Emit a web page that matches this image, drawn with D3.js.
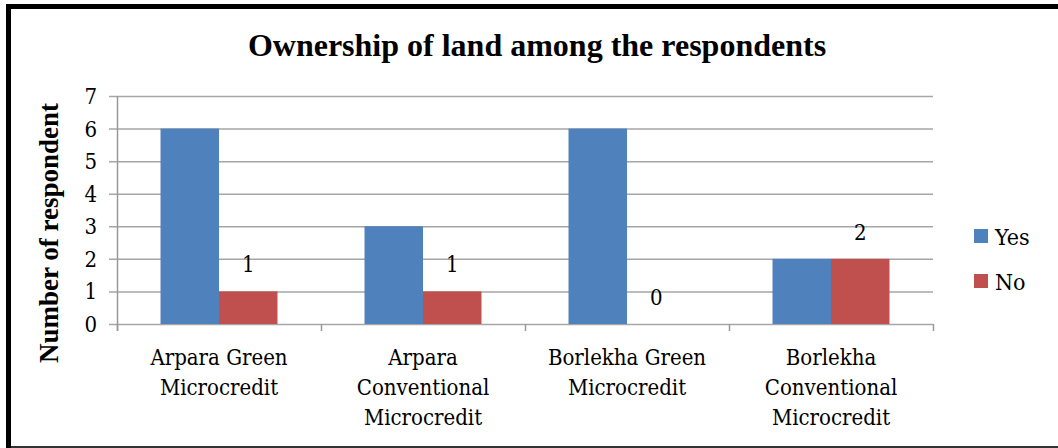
<!DOCTYPE html>
<html>
<head>
<meta charset="utf-8">
<script src="https://cdn.jsdelivr.net/npm/d3@7/dist/d3.min.js"></script>
<style>
  html, body { margin: 0; padding: 0; background: #fff; }
  svg { display: block; }
</style>
</head>
<body>
<svg id="chart" width="1058" height="448"></svg>
<script>
// Land ownership counts by microcredit group
const categories = [
  ["Arpara Green", "Microcredit"],
  ["Arpara", "Conventional", "Microcredit"],
  ["Borlekha Green", "Microcredit"],
  ["Borlekha", "Conventional", "Microcredit"]
];
const seriesNames = ["Yes", "No"];
const yesValues = [6, 3, 6, 2];
const noValues = [1, 1, 0, 2];
const yTicks = [0, 1, 2, 3, 4, 5, 6, 7];
const colors = { Yes: "#4F81BD", No: "#C0504D" };

const FONT = "'DejaVu Serif Condensed', 'DejaVu Serif', serif";
const BOLD = "'Liberation Serif', 'Times New Roman', serif";
const svg = d3.select("#chart");
const W = 1058, H = 448;
const plot = { left: 117, right: 933, top: 96, bottom: 324 };

// frame
svg.append("rect").attr("x", 0).attr("y", 0).attr("width", W).attr("height", H).attr("fill", "#fff");
svg.append("line").attr("x1", 8.5).attr("x2", 8.5).attr("y1", 4).attr("y2", H).attr("stroke", "#000").attr("stroke-width", 5);
svg.append("line").attr("x1", 6).attr("x2", W).attr("y1", 6.5).attr("y2", 6.5).attr("stroke", "#000").attr("stroke-width", 5);
svg.append("line").attr("x1", 11).attr("x2", W).attr("y1", 447).attr("y2", 447).attr("stroke", "#333").attr("stroke-width", 2);

const catKeys = categories.map(c => c.join(" "));
const x0 = d3.scaleBand().domain(catKeys).range([plot.left, plot.right]).padding(0);
const x1 = d3.scaleBand().domain(seriesNames).range([0, x0.bandwidth()]).paddingInner(0).paddingOuter(0.744);
const y = d3.scaleLinear().domain([0, 7]).range([plot.bottom, plot.top]);

// gridlines + y ticks
const gy = svg.append("g");
gy.selectAll("line.grid").data(yTicks).join("line")
  .attr("x1", plot.left - 8).attr("x2", plot.right)
  .attr("y1", d => y(d) + 0.5).attr("y2", d => y(d) + 0.5)
  .attr("stroke", "#a6a6a6").attr("stroke-width", 1.5);
gy.selectAll("text").data(yTicks).join("text")
  .attr("x", 97).attr("y", d => y(d) + 8)
  .attr("text-anchor", "end").attr("font-size", 22).attr("font-family", FONT)
  .text(d => d);

// y axis line
svg.append("line").attr("x1", plot.left + 0.5).attr("x2", plot.left + 0.5)
  .attr("y1", plot.top).attr("y2", plot.bottom + 7)
  .attr("stroke", "#999").attr("stroke-width", 1.5);

// x ticks at category boundaries
const bounds = catKeys.map(k => x0(k)).concat([plot.right]);
svg.selectAll("line.xt").data(bounds).join("line")
  .attr("x1", d => d + 0.5).attr("x2", d => d + 0.5)
  .attr("y1", plot.bottom).attr("y2", plot.bottom + 7)
  .attr("stroke", "#999").attr("stroke-width", 1.5);

// bars
const rows = catKeys.map((k, i) => ({ key: k, Yes: yesValues[i], No: noValues[i] }));
const groups = svg.append("g").selectAll("g").data(rows).join("g")
  .attr("transform", d => `translate(${x0(d.key)},0)`);
groups.selectAll("rect").data(d => seriesNames.map(s => ({ s, v: d[s] }))).join("rect")
  .attr("x", d => x1(d.s)).attr("width", x1.bandwidth())
  .attr("y", d => y(d.v)).attr("height", d => y(0) - y(d.v))
  .attr("fill", d => colors[d.s]);

// value labels on the "No" series
groups.append("text")
  .attr("x", x1("No") + x1.bandwidth() / 2)
  .attr("y", d => y(d.No) - 19)
  .attr("text-anchor", "middle").attr("font-size", 22).attr("font-family", FONT)
  .text(d => d.No);

// category labels
const xl = svg.append("g").selectAll("text").data(categories).join("text")
  .attr("text-anchor", "middle").attr("font-size", 22).attr("font-family", FONT)
  .attr("transform", (d, i) => `translate(${x0(catKeys[i]) + x0.bandwidth() / 2},0)`);
xl.selectAll("tspan").data(d => d).join("tspan")
  .attr("x", 0).attr("y", (d, j) => 365 + j * 30)
  .text(d => d);

// title
svg.append("text").attr("x", 537).attr("y", 56)
  .attr("text-anchor", "middle").attr("font-size", 32).attr("font-weight", "bold").attr("font-family", BOLD)
  .text("Ownership of land among the respondents");

// y axis title
svg.append("text")
  .attr("transform", "translate(58,233) rotate(-90)")
  .attr("text-anchor", "middle").attr("font-size", 27).attr("font-weight", "bold").attr("font-family", BOLD)
  .text("Number of respondent");

// legend
const lg = svg.append("g").selectAll("g").data(seriesNames).join("g")
  .attr("transform", (d, i) => `translate(974,${229 + i * 45})`);
lg.append("rect").attr("width", 14).attr("height", 14).attr("fill", d => colors[d]);
lg.append("text").attr("x", 21).attr("y", 16).attr("font-size", 23).attr("font-family", FONT).text(d => d);
</script>
</body>
</html>
